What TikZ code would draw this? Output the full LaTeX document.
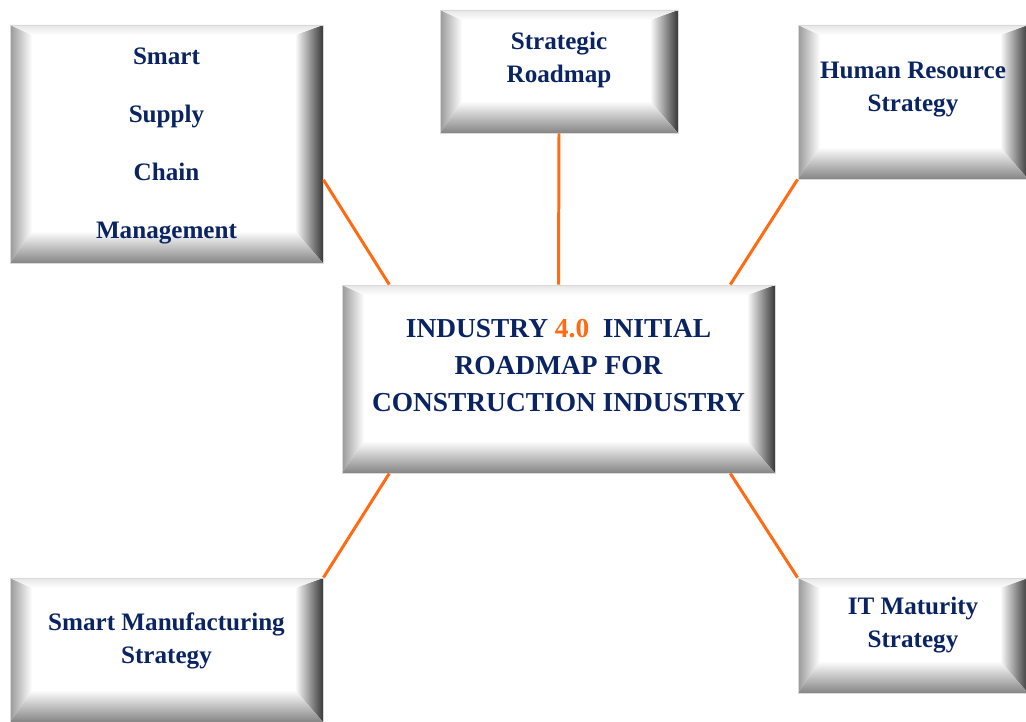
\documentclass[tikz,border=0pt]{standalone}
\usepackage{fontspec}
\setmainfont{Liberation Serif}
\usepackage{tikz}
\usetikzlibrary{calc}
\usetikzlibrary{positioning}
\definecolor{roadnavy}{HTML}{0A2463}
\definecolor{roadorange}{HTML}{FF6A13}
% bevel widths (cm): top, left, right, bottom
\newcommand{\bevT}{0.2}
\newcommand{\bevL}{0.44}
\newcommand{\bevR}{0.56}
\newcommand{\bevB}{0.64}
\tikzset{
	bevel/.style={
		rectangle, draw=black!15, line width=0.5pt, fill=white, inner sep=0pt,
		path picture={
			\coordinate (bl) at (path picture bounding box.south west);
			\coordinate (tr) at (path picture bounding box.north east);
			\shade[left color=black!40, middle color=black!6, right color=white]
				(bl) -- (bl|-tr) -- ($(bl|-tr)+(\bevL,-\bevT)$) -- ($(bl)+(\bevL,\bevB)$) -- cycle;
			\shade[left color=white, middle color=black!18, right color=black!78]
				(tr) -- (tr|-bl) -- ($(tr|-bl)+(-\bevR,\bevB)$) -- ($(tr)+(-\bevR,-\bevT)$) -- cycle;
			\shade[top color=white, middle color=black!8, bottom color=black!48]
				(bl) -- (tr|-bl) -- ($(tr|-bl)+(-\bevR,\bevB)$) -- ($(bl)+(\bevL,\bevB)$) -- cycle;
			\shade[top color=black!10, bottom color=white]
				(bl|-tr) -- (tr) -- ($(tr)+(-\bevR,-\bevT)$) -- ($(bl|-tr)+(\bevL,-\bevT)$) -- cycle;
		},
	},
	boxtext/.style={align=center, text=roadnavy, font=\fontsize{14.3}{18.8}\selectfont\bfseries},
	link/.style={roadorange, line width=1.7pt},
}
\begin{document}
\begin{tikzpicture}
	\useasboundingbox (0,0) rectangle (20.52,14.42);
	\clip (0,0) rectangle (20.52,14.42);

	% links first, boxes on top
	\node[bevel, minimum width=8.66cm, minimum height=3.76cm] (core) at (11.17,6.84) {};
	\node[bevel, minimum width=6.26cm, minimum height=4.76cm] (supply) at (3.33,11.54) {};
	\node[bevel, minimum width=4.76cm, minimum height=2.46cm] (strat) at (11.18,12.99) {};
	\node[bevel, minimum width=4.6cm, minimum height=3.08cm] (human) at (18.26,12.38) {};
	\node[bevel, minimum width=6.26cm, minimum height=2.88cm] (manuf) at (3.33,1.42) {};
	\node[bevel, minimum width=4.6cm, minimum height=2.3cm] (itmat) at (18.26,1.71) {};

	\draw[link] ($(supply.south east)!0.35!(supply.north east)$) -- ($(core.north west)!0.11!(core.north east)$);
	\draw[link] (strat.south) -- (core.north);
	\draw[link] (human.south west) -- ($(core.north west)!0.896!(core.north east)$);
	\draw[link] ($(core.south west)!0.11!(core.south east)$) -- (manuf.north east);
	\draw[link] ($(core.south west)!0.896!(core.south east)$) -- (itmat.north west);

	\node[boxtext, font=\fontsize{15.6}{21}\selectfont\bfseries] (core text) at ([yshift=0.27cm]core.center)
		{INDUSTRY \textcolor{roadorange}{4.0}\ \ INITIAL\\ROADMAP FOR\\CONSTRUCTION INDUSTRY};
	\node[boxtext, font=\fontsize{14.3}{33}\selectfont\bfseries] (supply text) at ([yshift=-0.03cm]supply.center)
		{Smart\\Supply\\Chain\\Management};
	\node[boxtext] (strat text) at ([yshift=0.24cm]strat.center) {Strategic\\Roadmap};
	\node[boxtext] (human text) at ([yshift=0.24cm]human.center) {Human Resource\\Strategy};
	\node[boxtext] (manuf text) at ([yshift=0.18cm]manuf.center) {Smart Manufacturing\\Strategy};
	\node[boxtext] (itmat text) at ([yshift=0.21cm]itmat.center) {IT Maturity\\Strategy};
\end{tikzpicture}
\end{document}
